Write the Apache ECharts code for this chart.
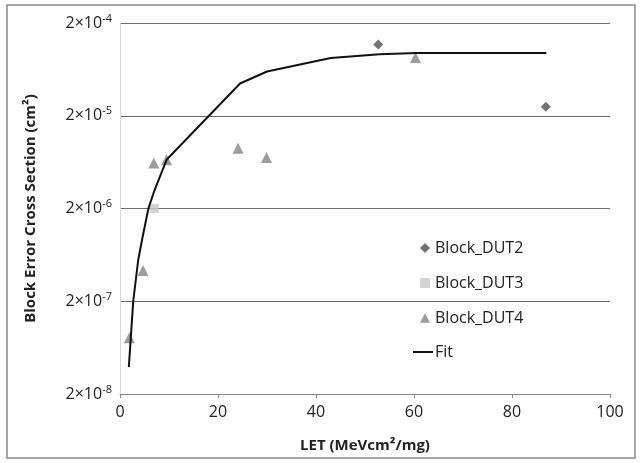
<!DOCTYPE html>
<html>
<head>
<meta charset="utf-8">
<style>
  html, body { margin: 0; padding: 0; background: #fff; }
  #chart { width: 641px; height: 463px; }
</style>
<script src="https://cdn.jsdelivr.net/npm/echarts@6/dist/echarts.min.js"></script>
</head>
<body>
<div id="chart"></div>
<script>
// Block error cross section vs LET, with per-device measurements and a fitted curve
const dut2 = [[52.7, 1.17e-4], [86.9, 2.5e-5]];
const dut3 = [[7.0, 2.0e-6]];
const dut4 = [[1.9, 8.1e-8], [4.7, 4.3e-7], [6.9, 6.2e-6], [9.5, 6.7e-6],
              [24.1, 8.9e-6], [29.9, 7.1e-6], [60.3, 8.5e-5]];
const fitLet = [1.8, 2.7, 3.7, 4.6, 5.8, 7.0, 9.5, 24.5, 30.0, 43.0, 53.0, 60.5, 87.0];
const fitSigma = [3.9e-8, 2.0e-7, 5.5e-7, 9.8e-7, 2.0e-6, 3.1e-6, 6.7e-6,
                  4.45e-5, 6.0e-5, 8.4e-5, 9.2e-5, 9.5e-5, 9.5e-5];
const yTicks = [2e-8, 2e-7, 2e-6, 2e-5, 2e-4];
const xTicks = [0, 20, 40, 60, 80, 100];

const FONT = '"Open Sans", "Liberation Sans", sans-serif';
const fitData = fitLet.map((x, i) => [x, fitSigma[i]]);
const legendText = { fontFamily: FONT, fontSize: 16, color: '#222' };

const chart = echarts.init(document.getElementById('chart'), null, { renderer: 'canvas' });
chart.setOption({
  animation: false,
  backgroundColor: '#ffffff',
  textStyle: { fontFamily: FONT },
  graphic: [{
    type: 'rect',
    shape: { x: 7, y: 5, width: 628, height: 453 },
    style: { fill: 'none', stroke: '#8a8a8a', lineWidth: 1.5 },
    silent: true, z: -1
  }],
  grid: { left: 120, right: 31, top: 23, bottom: 69 },
  legend: [
    {
      // marker entries
      orient: 'vertical',
      left: 420, top: 240,
      itemGap: 19,
      itemWidth: 10, itemHeight: 10,
      padding: 0,
      textStyle: legendText,
      data: [
        { name: 'Block_DUT2', icon: 'path://M5,1 L9,5 L5,9 L1,5 Z' },
        { name: 'Block_DUT3', icon: 'path://M1,1 L9,1 L9,9 L1,9 Z' },
        { name: 'Block_DUT4', icon: 'path://M5,0.5 L9.5,9 L0.5,9 Z' }
      ]
    },
    {
      // fitted curve entry
      orient: 'vertical',
      left: 413, top: 344,
      itemWidth: 20, itemHeight: 21,
      padding: 0,
      textStyle: Object.assign({}, legendText, { padding: [0, 0, 0, -3] }),
      data: [{ name: 'Fit', icon: 'path://M0,9.5 L20,9.5 L20,11.5 L0,11.5 Z' }]
    }
  ],
  xAxis: {
    type: 'value', min: 0, max: 100, interval: 20,
    name: 'LET (MeVcm²/mg)', nameLocation: 'middle', nameGap: 44,
    nameTextStyle: { fontFamily: FONT, fontSize: 15, fontWeight: 'bold', color: '#222' },
    axisLine: { lineStyle: { color: '#888', width: 1 } },
    axisTick: { show: true, length: 4, lineStyle: { color: '#888' } },
    axisLabel: { fontFamily: FONT, fontSize: 16, color: '#222', margin: 10,
      customValues: xTicks },
    splitLine: { show: false }
  },
  yAxis: {
    type: 'log', logBase: 10, min: 2e-8, max: 2e-4,
    name: 'Block Error Cross Section (cm²)', nameLocation: 'middle', nameGap: 82,
    nameTextStyle: { fontFamily: FONT, fontSize: 15, fontWeight: 'bold', color: '#222' },
    axisLine: { show: true, lineStyle: { color: '#d8d8d8', width: 1 } },
    axisTick: { show: false, customValues: yTicks },
    axisLabel: {
      customValues: yTicks,
      margin: 8,
      formatter: v => {
        const e = Math.round(Math.log10(v / 2));
        return '{m|2×10}{e|' + e + '}';
      },
      rich: {
        m: { fontFamily: FONT, fontSize: 16, color: '#222' },
        e: { fontFamily: FONT, fontSize: 11, color: '#222', padding: [0, 0, 9, 0] }
      }
    },
    splitLine: { show: true, lineStyle: { color: '#6e6e6e', width: 1 } }
  },
  series: [
    { name: 'Block_DUT2', type: 'scatter', data: dut2, symbol: 'diamond', symbolSize: 10,
      itemStyle: { color: '#505050' } },
    { name: 'Block_DUT3', type: 'scatter', data: dut3, symbol: 'rect', symbolSize: 9,
      itemStyle: { color: '#c9c9c9' } },
    { name: 'Block_DUT4', type: 'scatter', data: dut4, symbol: 'triangle', symbolSize: 11,
      itemStyle: { color: '#858585' } },
    { name: 'Fit', type: 'line', data: fitData, symbol: 'none', smooth: false,
      lineStyle: { color: '#111111', width: 2 }, itemStyle: { color: '#111111' } }
  ]
});
</script>
</body>
</html>
